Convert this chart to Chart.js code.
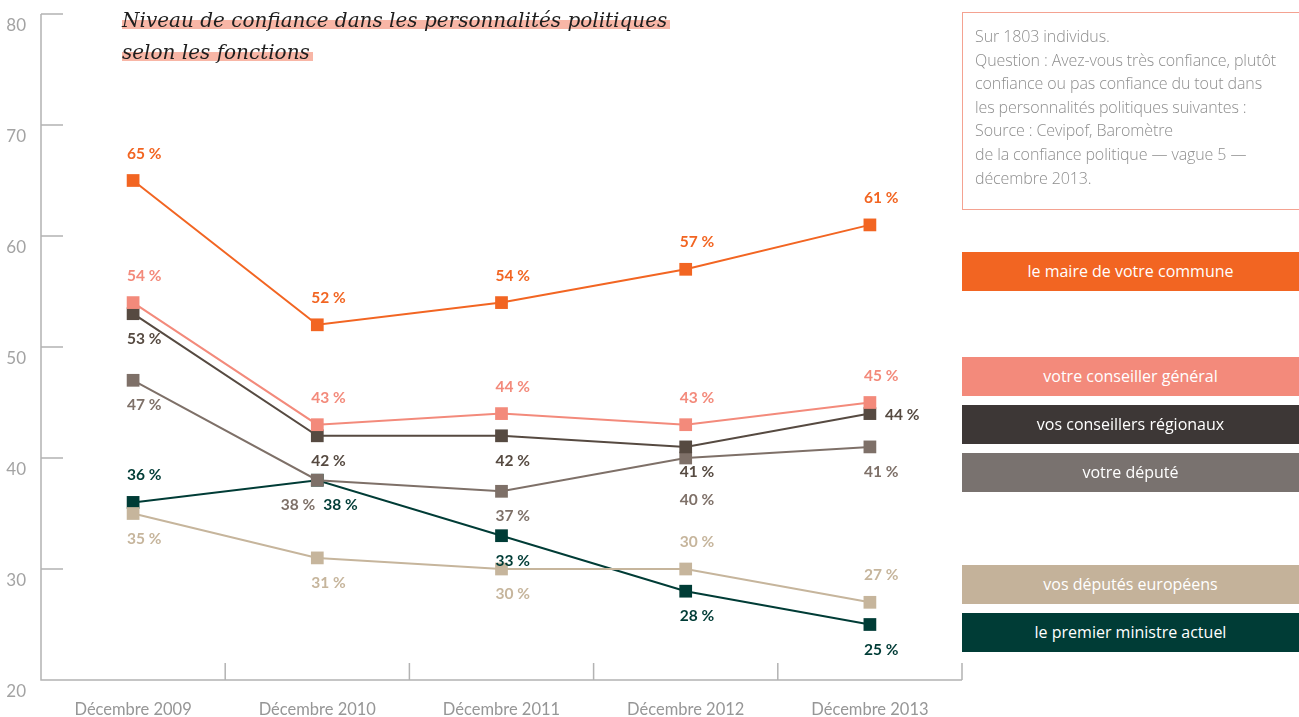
<!DOCTYPE html>
<html><head><meta charset="utf-8">
<script src="https://cdn.jsdelivr.net/npm/chart.js@4/dist/chart.umd.min.js"></script>
<style>
html,body{margin:0;padding:0;background:#fff;width:1299px;height:717px;overflow:hidden;}
#wrap{position:relative;width:1299px;height:717px;}
#c{position:absolute;left:0;top:0;}
#title{position:absolute;left:122px;top:4px;font-family:"DejaVu Serif",serif;font-style:italic;font-size:20px;line-height:32px;color:#1e1e1e;white-space:nowrap;}
#title span{background:linear-gradient(transparent 52%, #f8b6a6 52%, #f8b6a6 86%, transparent 86%);padding-right:3px;}
#note{position:absolute;left:962px;top:12px;width:360px;height:198px;border:1.5px solid #f4a291;box-sizing:border-box;padding:12px 0 0 12px;font-family:"Open Sans",sans-serif;font-weight:300;font-size:16px;line-height:23.6px;color:#8e8e8e;white-space:nowrap;letter-spacing:-0.1px;}
.leg{position:absolute;left:962px;width:337px;height:39px;color:#fff;font-family:"Open Sans",sans-serif;font-size:16px;text-align:center;line-height:39px;}
</style></head>
<body><div id="wrap">
<canvas id="c" width="1299" height="717"></canvas>
<div id="title"><span>Niveau de confiance dans les personnalités politiques</span><br><span>selon les fonctions</span></div>
<div id="note">Sur 1803 individus.<br>Question : Avez-vous très confiance, plutôt<br>confiance ou pas confiance du tout dans<br>les personnalités politiques suivantes :<br>Source : Cevipof, Baromètre<br>de la confiance politique — vague 5 —<br>décembre 2013.</div>
<div id="legend"></div>
</div>
<script>
const categories = ["Décembre 2009","Décembre 2010","Décembre 2011","Décembre 2012","Décembre 2013"];
const yTicks = [20,30,40,50,60,70,80];
const seriesNames = ["le maire de votre commune","votre conseiller général","vos conseillers régionaux","votre député","vos députés européens","le premier ministre actuel"];
const maire = [65,52,54,57,61];
const conseillerGeneral = [54,43,44,43,45];
const conseillersRegionaux = [53,42,42,41,44];
const depute = [47,38,37,40,41];
const deputesEuropeens = [35,31,30,30,27];
const premierMinistre = [36,38,33,28,25];
const seriesValues = [maire,conseillerGeneral,conseillersRegionaux,depute,deputesEuropeens,premierMinistre];

const lineColors = ["#f26522","#f38a7b","#564a41","#7e7068","#c6b59c","#003c36"];
const legendColors = ["#f26522","#f38a7b","#3d3736","#79726f","#c4b29a","#003c36"];
const legendTops = [252,357,405,453,565,613];
// label placement codes per point: a=above, b=below, r=right, bl=below-left, br=below-right, b2=further below
const labelPlacement = [
  ["a","a","a","a","a"],
  ["a","a","a","a","a"],
  ["b","b","b","b","r"],
  ["b","bl","b","b2","b"],
  ["b","b","b","a","a"],
  ["a","br","b","b","b"]
];

const legendEl = document.getElementById('legend');
seriesNames.forEach((n,i)=>{
  const d=document.createElement('div');
  d.className='leg'; d.style.top=legendTops[i]+'px'; d.style.background=legendColors[i];
  d.textContent=n; legendEl.appendChild(d);
});

const axisPlugin = {
  id:'axisPlugin',
  beforeDatasetsDraw(chart){
    const {ctx, chartArea:a, scales:{x,y}} = chart;
    ctx.save();
    ctx.strokeStyle='#b3b3b3'; ctx.lineWidth=1.5;
    ctx.beginPath();
    ctx.moveTo(a.left, a.top); ctx.lineTo(a.left, a.bottom); ctx.lineTo(a.right, a.bottom);
    yTicks.forEach(v=>{const py=y.getPixelForValue(v); ctx.moveTo(a.left,py); ctx.lineTo(a.left+22,py);});
    const n=categories.length;
    for(let i=0;i<=n;i++){
      let px;
      if(i===0) px=a.left; else if(i===n) px=a.right;
      else px=(x.getPixelForValue(i-1)+x.getPixelForValue(i))/2;
      ctx.moveTo(px,a.bottom); ctx.lineTo(px,a.bottom-17);
    }
    ctx.stroke();
    ctx.restore();
  }
};

const labelPlugin = {
  id:'labelPlugin',
  afterDatasetsDraw(chart){
    const ctx=chart.ctx;
    ctx.save();
    ctx.font='bold 15.5px Lato, sans-serif';
    ctx.textBaseline='middle';
    chart.data.datasets.forEach((ds,di)=>{
      const meta=chart.getDatasetMeta(di);
      meta.data.forEach((pt,i)=>{
        const txt=ds.data[i]+' %';
        const p=labelPlacement[di][i];
        let x=pt.x-6, yy=pt.y, align='left';
        if(p==='a') yy=pt.y-27;
        else if(p==='b') yy=pt.y+25;
        else if(p==='b2') yy=pt.y+42;
        else if(p==='r'){x=pt.x+15; yy=pt.y+1;}
        else if(p==='bl'){x=pt.x-2; yy=pt.y+25; align='right';}
        else if(p==='br'){x=pt.x+6; yy=pt.y+25;}
        ctx.textAlign=align;
        ctx.fillStyle=lineColors[di];
        ctx.fillText(txt,x,yy);
      });
    });
    ctx.restore();
  }
};

function draw(){
  new Chart(document.getElementById('c'),{
    type:'line',
    data:{
      labels:categories,
      datasets:seriesValues.map((vals,i)=>({
        label:seriesNames[i], data:vals,
        borderColor:lineColors[i], backgroundColor:lineColors[i],
        pointBackgroundColor:lineColors[i], pointBorderWidth:0,
        pointStyle:'rect', pointRadius:9, borderWidth:2, tension:0, fill:false
      }))
    },
    options:{
      responsive:false, animation:false, devicePixelRatio:1,
      layout:{padding:{top:14,right:337,bottom:0,left:0}},
      plugins:{legend:{display:false},tooltip:{enabled:false}},
      scales:{
        x:{type:'category',offset:true,grid:{display:false,drawTicks:false},border:{display:false},
           ticks:{color:'#969696',font:{family:'Lato',size:16.5},padding:20,maxRotation:0},
           afterFit:s=>{s.height=37;s.paddingLeft=0;s.paddingRight=0;}},
        y:{min:20,max:80,grid:{display:false,drawTicks:false},border:{display:false},
           afterBuildTicks:s=>{s.ticks=yTicks.map(v=>({value:v}));},
           ticks:{color:'#a3a3a3',font:{family:'Lato',size:17},labelOffset:12,padding:15},
           afterFit:s=>{s.width=41;s.paddingTop=0;s.paddingBottom=0;}}
      }
    },
    plugins:[axisPlugin,labelPlugin]
  });
}
const fl=[document.fonts.load('15px Lato'),document.fonts.load('bold 15px Lato'),document.fonts.load('italic 20px "DejaVu Serif"'),document.fonts.load('300 16px "Open Sans"'),document.fonts.load('16px "Open Sans"')];
Promise.race([Promise.all(fl),new Promise(r=>setTimeout(r,800))]).then(draw,draw);
</script>
</body></html>
